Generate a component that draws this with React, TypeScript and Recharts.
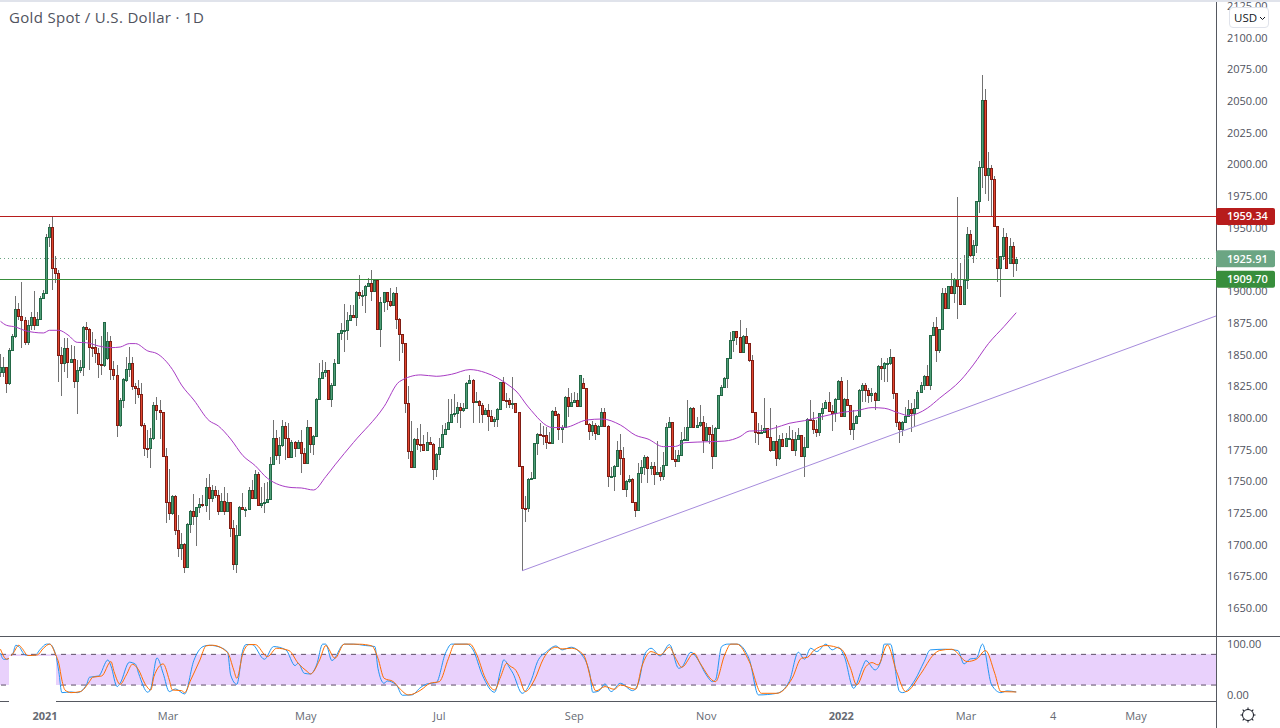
import { Bar, ComposedChart, Line, ReferenceArea, ReferenceLine, XAxis, YAxis } from 'recharts';

const FONT = '"Open Sans", Arial, sans-serif';
const AXIS_COLOR = '#50535e';
const FRAME_COLOR = '#555860';

const opens = [
  1836.9,1836.9,1840.3,1827.6,1853.7,1865,1886,1881,1877.4,1860,
  1873.4,1879.7,1873.4,1878.1,1894.7,1898.7,1943.1,1950.7,1918.4,1914.4,
  1849.7,1844,1855.3,1844.7,1846.6,1829.2,1837.9,1840.3,1872.1,1870.3,
  1856,1856,1851.3,1843.2,1842.4,1847.9,1860.8,1838.7,1834,1794.5,
  1814.5,1830.5,1838.7,1843.4,1825.3,1824.2,1819,1794.5,1776.4,1776.4,
  1784.3,1810.3,1806.3,1804.8,1770.6,1733.8,1725.1,1738.5,1711.7,1697.5,
  1700.6,1683,1716.4,1726.7,1722.7,1729.8,1732.4,1731.4,1745.6,1736.9,
  1743.2,1739.3,1727.2,1734.5,1727.2,1733.8,1713.2,1684.8,1707.7,1729.8,
  1728.2,1728.2,1743.2,1737.4,1755.9,1731.4,1733.2,1733.8,1736.2,1763.8,
  1784.3,1771.4,1778.8,1793.8,1784.3,1769.8,1781.7,1776.9,1781.7,1772.5,
  1764.6,1793,1779.6,1786.4,1815.1,1831.6,1836.4,1837.9,1815.6,1826.1,
  1843.5,1867.1,1869.5,1869.5,1877.4,1881.3,1880.3,1899.8,1897.1,1897.1,
  1904.2,1907.1,1900.8,1909.2,1870.8,1891.6,1899.5,1892.9,1889.2,1899,
  1878.2,1866.4,1859.3,1811.9,1774,1761.4,1783.5,1779.6,1779.6,1775.4,
  1781.7,1779.6,1760.4,1771.7,1777.2,1787.7,1791.9,1796.9,1803.5,1804,
  1809,1806.4,1808,1827.7,1830.1,1812.7,1813.8,1810.3,1803.8,1806.4,
  1802.2,1797.7,1799.3,1807.2,1828.5,1814.3,1814.3,1811.4,1811.9,1804.8,
  1762.2,1729.5,1729,1751.9,1752.7,1780.3,1787.9,1786.6,1786.6,1781.6,
  1780.8,1805.5,1803.2,1791.3,1793.2,1817.1,1810,1812.9,1814.2,1810,
  1827.6,1823.7,1795.8,1789.8,1794.5,1787.9,1793.7,1804.8,1794.2,1754.3,
  1754.8,1762.2,1774.8,1769,1744,1750.6,1751.9,1733.7,1727.4,1756.6,
  1761.4,1769.5,1760.6,1762.4,1756.1,1757.4,1754.3,1762.9,1792.9,1796.9,
  1767.7,1766.1,1770.8,1783.2,1783.2,1792.9,1807.9,1792.9,1794.5,1796.9,
  1783.2,1792.9,1787.4,1770,1792.1,1818.2,1824.5,1831.6,1847.4,1861.6,
  1868.7,1863.9,1852.1,1864.7,1859.2,1845.8,1804.8,1789,1789,1789,
  1792.1,1785,1774.8,1781.9,1768.5,1783.5,1778.5,1783.5,1783.5,1775.4,
  1783.5,1786.7,1770.6,1777.2,1799.3,1798.5,1791.4,1789.6,1804,1808.5,
  1812.7,1806.1,1804.5,1815.1,1829.3,1801.7,1815.1,1810.3,1791.4,1796.7,
  1801.7,1822.2,1826.1,1822.4,1818.2,1819.8,1814.3,1841.1,1839.5,1843.5,
  1843.5,1848.2,1819.8,1797.4,1791.9,1797.4,1801.7,1807.2,1804.5,1808,
  1820.6,1826.1,1833.2,1826.6,1865.6,1871.9,1853.7,1870.3,1898.7,1886.9,
  1904.2,1898.7,1909.7,1904.2,1890,1909,1945.2,1928.7,1936.6,1971.3,
  1998.1,2051,1991.8,1997.3,1988.6,1951.6,1918.4,1927.9,1942.9,1922.4,1935.8,1922.4,
];

const closes = [
  1840.3,1840.3,1827.6,1853.7,1865,1886,1881,1877.4,1860,1873.4,
  1879.7,1873.4,1878.1,1894.7,1898.7,1943.1,1950.7,1918.4,1914.4,1849.7,
  1844,1855.3,1844.7,1846.6,1829.2,1837.9,1840.3,1872.1,1870.3,1856,
  1855.5,1851.3,1843.2,1842.4,1875.8,1860.8,1838.7,1834,1794.5,1814.5,
  1830.8,1838.7,1843.4,1825.3,1824.2,1819,1794.5,1776.4,1776,1784.3,
  1810.3,1806.3,1804.8,1770.6,1733.8,1725.1,1738.5,1711.7,1697.5,1700.6,
  1683,1716.4,1726.7,1722.7,1729.8,1732.4,1731.4,1745.6,1736.9,1743.2,
  1739.3,1727.2,1734.5,1727.2,1733.8,1713.2,1684.8,1707.7,1729.8,1728.2,
  1728.5,1743.2,1737.4,1755.9,1731.4,1733.2,1733.8,1736.1,1763.8,1784.3,
  1771.4,1778.8,1793.8,1784.3,1769.8,1781.7,1776.9,1781.7,1772.5,1764.6,
  1793,1779.6,1786.4,1815.1,1831.6,1836.4,1837.9,1815.6,1826.1,1843.5,
  1867.1,1869.5,1869.8,1877.4,1881.3,1880.3,1899.8,1897.1,1897.4,1904.2,
  1907.1,1900.8,1909.2,1870.8,1891.6,1899.5,1892.9,1889.2,1899,1878.2,
  1866.4,1859.3,1811.9,1774,1761.4,1783.5,1779.6,1779.2,1775.4,1781.7,
  1779.6,1760.4,1771.7,1777.2,1787.7,1791.9,1796.9,1803.5,1804,1809,
  1806.4,1808,1827.7,1830.1,1812.7,1813.8,1810.3,1803.8,1806.4,1802.2,
  1797.7,1799.3,1807.2,1828.5,1814.3,1814,1811.4,1811.9,1804.8,1762.2,
  1729.5,1729,1751.9,1752.7,1780.3,1787.9,1786.6,1786.3,1781.6,1780.8,
  1805.5,1802.9,1791.3,1793.2,1817.1,1810,1812.9,1814.2,1810,1834,
  1823.7,1795.8,1789.8,1794.5,1788.2,1793.7,1804.8,1794.2,1754.3,1754.8,
  1762.2,1774.8,1769,1744,1750.6,1751.9,1733.7,1727.4,1756.6,1761.4,
  1769.5,1760.6,1762.4,1756.1,1757.4,1754.3,1762.9,1792.9,1796.9,1767.7,
  1766.1,1770.8,1783.2,1783.5,1792.9,1807.9,1792.9,1794.5,1796.9,1783.2,
  1792.9,1787.4,1770,1792.1,1818.2,1824.5,1831.6,1847.4,1861.6,1868.7,
  1863.9,1852.1,1864.7,1859.2,1845.8,1804.8,1789,1788.7,1789.3,1792.1,
  1785,1774.8,1781.9,1768.5,1783.5,1778.5,1784.3,1784.3,1775.4,1783.5,
  1786.7,1770.6,1777.2,1799.3,1798.5,1791.4,1789.6,1804,1808.5,1812.7,
  1806.1,1804.5,1815.1,1829.3,1801.7,1815.1,1810.3,1791.4,1796.7,1801.7,
  1822.2,1826.1,1822.4,1818.2,1819.8,1814.3,1841.1,1839.5,1843.7,1843.7,
  1848.2,1819.8,1797.4,1791.9,1797.4,1801.7,1807.2,1804.5,1808,1820.6,
  1826.1,1833.2,1826.6,1865.6,1871.9,1853.7,1870.3,1898.7,1886.9,1904.2,
  1898.7,1909.7,1904.2,1890,1909,1945.2,1928.7,1936.6,1971.3,1998.1,
  2051,1991.8,1997.3,1988.6,1951.6,1918.4,1927.9,1942.9,1918.4,1935.8,1922.4,1925.91,
];

const highs = [
  1850.8,1848.2,1840.8,1855.3,1866.3,1896.3,1890.8,1907.3,1880.3,1877.6,
  1883.9,1900.5,1884.2,1896.6,1901.3,1945.5,1953.4,1959.1,1928.1,1917.1,
  1856.6,1863.2,1863.7,1857.9,1857.4,1846,1846,1872.9,1876,1871,
  1868.4,1862.4,1855.3,1865,1876.3,1868.4,1865,1845,1842.1,1815.8,
  1831.6,1848.7,1856.6,1848.7,1828.2,1830.3,1827.6,1796.1,1790.8,1792.1,
  1813.2,1817.1,1814.5,1805.3,1776.4,1759.8,1739.5,1739.5,1723.8,1709.3,
  1701.4,1717.2,1727.7,1740.3,1730.3,1736.9,1739.5,1752.7,1756.1,1747.4,
  1746.6,1743.5,1740.9,1746.1,1740.9,1734.3,1719.8,1715.9,1730.9,1740.9,
  1730.3,1746.1,1751.4,1759.3,1758,1746.1,1748.7,1750,1769.8,1798.8,
  1790.9,1785.6,1798.8,1797.4,1796.1,1783,1782.2,1783,1790.9,1776.4,
  1798.8,1793.5,1786.9,1815.9,1843.5,1846.1,1844.8,1838.2,1827.7,1846.9,
  1867.7,1875,1890.3,1884.2,1889.5,1889.5,1900.8,1913.2,1901.3,1905.3,
  1910.5,1917.1,1909.7,1909.7,1896.1,1900,1900,1902.6,1900,1903.4,
  1879,1866.6,1859.8,1825.6,1797.7,1784.3,1792.2,1795.6,1786.9,1789.6,
  1785.6,1780.4,1772.5,1784.3,1794.8,1796.1,1815.1,1815.1,1819,1813.2,
  1811.9,1811.9,1829,1834.3,1830.8,1821.1,1814.5,1811.9,1808,1811.4,
  1806.7,1801.4,1808,1829,1832.4,1819.8,1815.9,1833,1812.4,1805.3,
  1762.7,1738.7,1752.7,1758,1780.8,1788.7,1796.6,1794,1792.9,1789,
  1806.6,1809.2,1804,1794.8,1817.6,1823.7,1819.8,1821.1,1819.8,1834.5,
  1831.6,1824,1796.1,1797.9,1796.1,1794.8,1807.9,1808.4,1794.8,1761.9,
  1763.2,1782.1,1787.7,1777.7,1751.4,1755.3,1752.7,1734.3,1764.5,1767.2,
  1771.1,1770.6,1765.8,1765.8,1782.1,1761.9,1773.7,1796.1,1800.8,1797.4,
  1775,1775,1789.5,1793.4,1814.5,1809.2,1808.7,1801.3,1810.5,1801.9,
  1796.6,1793.5,1794.8,1793.5,1818.7,1826.3,1832.9,1847.9,1868.4,1869.2,
  1869.2,1877.6,1865.8,1871,1859.7,1850,1805.3,1796.1,1794.8,1815.8,
  1792.7,1807.9,1782.4,1794.8,1786.9,1788.2,1788.2,1794,1790.9,1789.6,
  1792.2,1787.2,1785.6,1800,1814.5,1805.3,1798.8,1804.5,1811.9,1814.5,
  1821.1,1810.6,1815.9,1830.3,1833,1815.9,1830.3,1810.9,1806.7,1802.7,
  1823,1827.7,1827.7,1823.7,1823.7,1821.1,1842.2,1847.4,1844.8,1847.4,
  1854.5,1848.7,1820.3,1798,1798,1809.3,1814.5,1811.9,1815.1,1822.4,
  1829,1834.3,1842.2,1866.1,1876.3,1880.3,1870.8,1902.6,1902.6,1904.7,
  1914.5,1910.5,1974.4,1922.4,1928.9,1950.8,1948.7,1940.8,1971.8,2003.1,
  2071,2059.9,2010,2000,1991.3,1952.1,1928.4,1950,1946,1942.1,1939.5,1927.6,
];

const lows = [
  1832.9,1832.9,1820.3,1826.3,1853.2,1863.2,1877.6,1855.8,1857.9,1857.9,
  1869.7,1869.7,1872.9,1877.6,1894.2,1898.1,1935.5,1901.3,1906.5,1829,
  1817.9,1836.9,1831.6,1844.2,1824.2,1803.7,1835.5,1833.7,1861.8,1838.2,
  1848.7,1843.4,1832.1,1834.2,1840.8,1846,1830.3,1830.3,1785.3,1793.5,
  1808.5,1829,1832.9,1822.4,1811.3,1815.8,1793.5,1770.3,1768.5,1761.1,
  1783,1798.7,1784,1769.8,1717.7,1719.8,1723.8,1708,1690.9,1688.3,
  1677.7,1681.7,1709.3,1715.9,1699.6,1725.1,1730.3,1726.4,1719.8,1734.3,
  1736.9,1723.8,1726.4,1723.8,1726.4,1706.7,1680.4,1678.3,1707.2,1727.7,
  1721.9,1727.7,1736.9,1736.9,1730.9,1729,1725.1,1733,1735.6,1763.3,
  1767.2,1764,1777.7,1767.2,1768.5,1769.3,1769.8,1776.4,1757.2,1764,
  1764,1772.5,1771.1,1785.6,1814.5,1831.1,1833,1815.1,1809.3,1825.6,
  1842.9,1861.9,1852.7,1861.9,1876.9,1879.8,1872.9,1894,1888.7,1883.4,
  1904,1892.9,1900,1870.3,1856.6,1884.2,1885.6,1888.2,1888.7,1870.3,
  1845.6,1851.9,1804.5,1768,1760.6,1760.6,1775.1,1773.8,1775.1,1774.6,
  1779,1751.4,1754.1,1767.2,1776.4,1786.9,1790.9,1796.1,1801.4,1796.7,
  1792.2,1805.3,1807.4,1827.2,1796.7,1811.9,1796.1,1796.1,1802.7,1790.3,
  1797.2,1793.5,1793.5,1806.7,1813.8,1808,1808,1807.4,1804,1761.4,
  1679.8,1718.5,1726.4,1751.4,1752.2,1771.1,1786.1,1779,1775.6,1780.3,
  1780.3,1802.4,1783,1780.8,1792.9,1801.3,1809.2,1812.4,1809.5,1809.5,
  1823.2,1795.3,1783,1786.1,1783,1787.7,1793.5,1793.5,1746.1,1752.7,
  1742.9,1761.9,1755.3,1743.5,1737.7,1749.3,1733,1722.4,1726.9,1749.3,
  1755.3,1748.7,1755.3,1747.4,1755.3,1750.8,1751.4,1762.4,1792.4,1767.2,
  1761.4,1765.6,1770.3,1782.4,1782.9,1792.4,1792.4,1792.4,1793.5,1772.9,
  1782.4,1779.8,1759.8,1769.5,1791.6,1817.6,1823.7,1823.7,1846.6,1852.6,
  1857.9,1851.3,1851.3,1858.7,1844.7,1804,1780.3,1779,1788.2,1788.2,
  1784.2,1773.7,1774.3,1762.7,1767.2,1777.7,1777.7,1783,1774.6,1770.4,
  1783,1769.8,1754,1776.4,1798,1787.7,1785.6,1786.1,1798.8,1808,
  1805.3,1790.1,1797.4,1814.5,1800.9,1800.9,1809.8,1786.9,1783,1796.1,
  1800.9,1813.2,1813.2,1811.9,1813.2,1806.7,1813.8,1830.3,1829,1829,
  1842.2,1815.1,1793.5,1780.9,1786.1,1796.9,1800.9,1789.6,1793.5,1807.4,
  1819.8,1822.4,1826.1,1822.4,1865,1844.8,1851.4,1869.8,1886.1,1886.3,
  1897.9,1890.8,1878.4,1889.5,1889.5,1902.1,1927.6,1922.4,1930.3,1962.3,
  1981.5,1977.1,1971.8,1959.2,1950.8,1907.9,1896.1,1925,1917.9,1921.8,1911.8,1916.6,
];

// moving average, read at the bends only: [bar index, price]
const maPoints = [
  [0,1876.6],[2,1873.4],[5,1872.1],[8,1869.2],[14,1867.4],[16,1869.5],[19,1869.5],[22,1865.8],[25,1860],[28,1859.7],
  [32,1857.1],[36,1855.8],[39,1856.3],[42,1859],[44,1859],[48,1853.2],[51,1851.1],[56,1838.7],[59,1826.3],[63,1814.5],
  [68,1798.2],[71,1794],[75,1783.7],[79,1770.6],[83,1762.7],[87,1752.7],[95,1745.4],[98,1745.1],[102,1743.5],[106,1754],
  [109,1763.3],[115,1780.9],[125,1809.3],[130,1829],[137,1834.3],[142,1833.2],[147,1834.8],[153,1838.5],[158,1836.1],[166,1825.5],
  [168,1821.6],[172,1809],[180,1792.7],[184,1792.9],[191,1798.7],[196,1799.5],[202,1794.8],[207,1786.6],[211,1783.7],[216,1777.7],
  [220,1777.9],[223,1780.8],[231,1781.6],[236,1782.1],[241,1785.6],[244,1790],[248,1790.3],[252,1792.2],[257,1796.1],[262,1798.2],
  [270,1802.7],[276,1805.3],[279,1806.1],[284,1808.5],[288,1808],[293,1804],[296,1802.2],[299,1804],[302,1808],[306,1815.9],
  [313,1830.3],[317,1842.2],[322,1859.2],[327,1872.4],[331,1883.4],
];

// stochastic %K, read at the bends: [bar index, value]
const stochK = [
  [0,82.2],[1,70.4],[2,70.4],[4,80.9],[5,97.8],[6,95.2],[8,78.9],[11,76.9],[13,90],[15,100],
  [16,100],[18,78.9],[19,46.3],[20,5.2],[23,6.5],[25,5.2],[28,20.2],[29,35.2],[32,37.8],[35,69.1],
  [36,57.4],[38,17],[39,23.5],[42,64.6],[44,60.6],[45,43],[48,5.9],[49,13.7],[51,73],[53,43],
  [55,7.2],[57,12.4],[60,2.6],[63,67.8],[66,95.2],[68,97.8],[70,96.5],[74,84.8],[75,39.8],[77,21.5],
  [79,88.7],[80,99.1],[82,99.1],[86,70.4],[89,95.2],[93,88.7],[96,58],[97,62.6],[99,43],[101,41.7],
  [103,59.3],[105,100],[106,100],[108,67.8],[112,100],[115,100],[119,97.2],[122,95.2],[123,52.8],[125,23.5],
  [126,28],[129,20.2],[131,0],[134,0.7],[137,15.7],[139,22.2],[142,24.8],[145,82.2],[147,100],[152,100],
  [154,88.7],[157,39.8],[161,5.9],[163,49.6],[164,69.1],[166,52.8],[167,43],[170,3.9],[173,30],[175,65.9],
  [178,85.4],[181,96.5],[183,88.7],[186,93.9],[189,82.2],[192,43],[193,5.9],[195,8.5],[197,22.2],[199,7.2],
  [202,23.5],[206,9.1],[208,26.7],[210,80.9],[212,91.9],[215,76.9],[218,99.1],[221,52.8],[222,54.8],[225,84.1],
  [227,72.4],[230,39.8],[232,26.7],[233,30],[235,95.2],[237,100],[240,100],[244,70.4],[247,0.7],[253,3.9],
  [257,26.7],[260,84.1],[262,70.4],[264,91.9],[266,85.4],[269,100],[271,88.7],[273,93.9],[275,75.6],[278,13.7],
  [281,56.1],[282,67.8],[285,49.6],[287,69.1],[288,100],[290,100],[293,7.2],[294,5.2],[298,30],[301,65.9],
  [303,88.7],[308,90],[312,87.4],[314,61.3],[316,71.1],[318,72.4],[320,100],[323,20.2],[326,5.2],[328,8.5],[331,6.5],
];

// stochastic %D, read at the bends: [bar index, value]
const stochD = [
  [0,90],[2,70.4],[4,80.9],[6,97.8],[7,91.9],[9,77.6],[12,78.9],[14,91.9],[16,100],[18,78.9],
  [19,62.6],[20,30],[21,10.4],[23,5.2],[26,7.2],[29,26.7],[30,35.2],[33,37.8],[36,65.9],[37,46.3],
  [39,21.5],[41,39.8],[43,60.6],[45,49.6],[47,23.5],[49,10.4],[50,36.5],[53,61.3],[55,30],[56,10.4],
  [59,9.1],[60,5.2],[62,30],[65,69.1],[67,96.5],[69,97.8],[74,83.5],[76,49.6],[77,33.3],[79,82.2],
  [81,99.1],[83,99.1],[87,75.6],[90,91.9],[94,87.4],[97,62.6],[100,46.3],[101,41.7],[104,69.1],[106,97.2],
  [109,72.4],[112,100],[117,99.8],[121,96.5],[123,72.4],[125,33.3],[128,26.7],[130,13.7],[133,0.7],[137,10.4],
  [140,23.5],[143,26.7],[146,72.4],[148,99.8],[153,100],[155,82.2],[158,33.3],[161,10.4],[163,36.5],[165,62.6],
  [166,57.4],[168,48.3],[169,36.5],[171,7.2],[174,30],[177,72.4],[181,93.9],[183,90.6],[186,91.9],[190,78.9],
  [193,20.2],[194,8.5],[197,17],[200,11.7],[202,20.2],[207,11.7],[209,56.1],[212,85.4],[215,78.9],[218,93.9],
  [220,72.4],[222,54.8],[226,82.2],[228,62.6],[233,26.7],[236,78.9],[238,100],[240,100],[244,65.9],[248,3.9],
  [253,3.9],[258,33.3],[261,72.4],[263,74.3],[265,87.4],[269,97.2],[274,90],[277,52.8],[279,20.2],[282,56.1],
  [284,63.9],[286,59.3],[289,98.5],[292,46.3],[295,7.2],[300,43],[304,78.9],[306,87.4],[310,90],[315,65.9],
  [318,70.4],[321,87.4],[324,43],[326,7.2],[331,6.5],
];

const priceTicks = [
  1650,1675,1700,1725,1750,1775,1800,1825,1850,1875,
  1900,1925,1950,1975,2000,2025,2050,2075,2100,2125,
];
const dateTickIndexes = [14.5, 54.6, 99.5, 143, 187, 230, 274, 314.6, 343, 370];
const dateTickLabels = ['2021', 'Mar', 'May', 'Jul', 'Sep', 'Nov', '2022', 'Mar', '4', 'May'];
const boldDateLabels = ['2021', '2022'];
const trendStart = { x: 170, y: 1679.8 };
const trendEnd = { x: 396.1, y: 1880.8 };

const X_DOMAIN = [-0.16, 396.1];
const Y_DOMAIN = [1628.3, 2130.1];
const lookup = (points: number[][]) => new Map(points.map(([i, v]) => [i, v]));
const maByIndex = lookup(maPoints);
const kByIndex = lookup(stochK);
const dByIndex = lookup(stochD);

const priceRows = opens.map((open, i) => ({
  i,
  open,
  close: closes[i],
  high: highs[i],
  low: lows[i],
  range: [lows[i], highs[i]],
  ma: maByIndex.get(i) ?? null,
}));

const stochRows = opens.map((_, i) => ({
  i,
  k: kByIndex.get(i) ?? null,
  d: dByIndex.get(i) ?? null,
}));

// wick plus outlined body, worked out from the pixel span recharts gives for [low, high]
function Candle(props: any) {
  const { x, y, width, height, payload } = props;
  if (!payload || height == null) return null;
  const { open, close, high, low } = payload;
  const perUnit = height / (high - low);
  const up = close >= open;
  const px = Math.floor(x + width / 2);
  const top = Math.round(y + (high - Math.max(open, close)) * perUnit);
  const bottom = Math.max(top + 1, Math.round(y + (high - Math.min(open, close)) * perUnit));
  return (
    <g shapeRendering="crispEdges">
      <line x1={px + 0.5} x2={px + 0.5} y1={y} y2={y + height} stroke="#727272" strokeWidth={1} />
      <rect
        x={px - 0.5}
        y={top + 0.5}
        width={2}
        height={bottom - top}
        fill={up ? '#4f9f78' : '#e2452f'}
        stroke={up ? '#236846' : '#7f1d14'}
        strokeWidth={1}
      />
    </g>
  );
}

function PriceTick(props: any) {
  const { y, payload } = props;
  return (
    <text x={1227} y={y + 3.5} fontFamily={FONT} fontSize={11} fill={AXIS_COLOR}>
      {payload.value.toFixed(2)}
    </text>
  );
}

function DateTick(props: any) {
  const { x, y, payload, index } = props;
  const label = dateTickLabels[index];
  return (
    <text
      x={x}
      y={y + 11}
      textAnchor="middle"
      fontFamily={FONT}
      fontSize={11}
      fontWeight={boldDateLabels.includes(label) ? 700 : 400}
      fill="#666a73"
    >
      {label}
    </text>
  );
}

function PriceTag(props: any) {
  const { viewBox, text, fill } = props;
  const cy = viewBox.y;
  return (
    <g>
      <rect x={1216} y={cy - 8.5} width={59} height={17} rx={2} fill={fill} />
      <text x={1227} y={cy + 4} fontFamily={FONT} fontSize={11} fontWeight={600} fill="#ffffff">
        {text}
      </text>
    </g>
  );
}

function SunIcon() {
  const rays = [0, 45, 90, 135, 180, 225, 270, 315];
  return (
    <svg width={20} height={20} viewBox="-10 -10 20 20" style={{ position: 'absolute', left: 1238, top: 705 }}>
      <circle cx={0} cy={0} r={5.5} fill="none" stroke="#131722" strokeWidth={1} />
      {rays.map((deg) => (
        <line key={deg} x1={0} y1={-5.5} x2={0} y2={-7.5} stroke="#131722" strokeWidth={1} transform={`rotate(${deg})`} />
      ))}
    </svg>
  );
}

export default function App() {
  return (
    <div style={{ position: 'absolute', left: 0, top: 0, width: 1280, height: 728, background: '#ffffff', overflow: 'hidden' }}>
      <div style={{ position: 'absolute', left: 0, top: 0 }}>
        <ComposedChart width={1280} height={636} data={priceRows} margin={{ top: 0, right: 0, bottom: 0, left: 0 }}>
          <XAxis dataKey="i" type="number" domain={X_DOMAIN} allowDataOverflow hide />
          <YAxis
            orientation="right"
            width={64}
            type="number"
            domain={Y_DOMAIN}
            allowDataOverflow
            ticks={priceTicks}
            interval={0}
            tick={<PriceTick />}
            tickLine={false}
            axisLine={{ stroke: FRAME_COLOR, shapeRendering: 'crispEdges' }}
          />
          <ReferenceLine segment={[trendStart, trendEnd]} stroke="#a68bdc" strokeWidth={1} />
          <Bar dataKey="range" barSize={3} shape={<Candle />} isAnimationActive={false} />
          <Line
            dataKey="ma"
            type="monotone"
            stroke="#a83cc4"
            strokeWidth={1}
            dot={false}
            connectNulls
            isAnimationActive={false}
          />
        </ComposedChart>
      </div>

      {/* same scales again on a clear layer, so the level tags sit over the axis labels */}
      <div style={{ position: 'absolute', left: 0, top: 0 }}>
        <ComposedChart width={1280} height={636} data={priceRows} margin={{ top: 0, right: 64, bottom: 0, left: 0 }}>
          <XAxis dataKey="i" type="number" domain={X_DOMAIN} allowDataOverflow hide />
          <YAxis type="number" domain={Y_DOMAIN} allowDataOverflow hide />
          <ReferenceLine
            y={1959.34}
            stroke="#b71c1c"
            strokeWidth={1}
            shapeRendering="crispEdges"
            label={<PriceTag text="1959.34" fill="#b71c1c" />}
          />
          <ReferenceLine
            y={1925.91}
            stroke="#6ba583"
            strokeWidth={1}
            strokeDasharray="1 3"
            shapeRendering="crispEdges"
            label={<PriceTag text="1925.91" fill="#6ba583" />}
          />
          <ReferenceLine
            y={1909.7}
            stroke="#388e3c"
            strokeWidth={1}
            shapeRendering="crispEdges"
            label={<PriceTag text="1909.70" fill="#388e3c" />}
          />
        </ComposedChart>
      </div>

      <div style={{ position: 'absolute', left: 0, top: 636 }}>
        <ComposedChart width={1280} height={92} data={stochRows} margin={{ top: 0, right: 0, bottom: 0, left: 0 }}>
          <XAxis
            dataKey="i"
            type="number"
            domain={X_DOMAIN}
            allowDataOverflow
            height={27}
            ticks={dateTickIndexes}
            interval={0}
            tick={<DateTick />}
            tickLine={false}
            axisLine={{ stroke: FRAME_COLOR, shapeRendering: 'crispEdges' }}
          />
          <YAxis
            orientation="right"
            width={64}
            type="number"
            domain={[-11.15, 115.85]}
            allowDataOverflow
            ticks={[0, 100]}
            interval={0}
            tick={<PriceTick />}
            tickLine={false}
            axisLine={{ stroke: FRAME_COLOR, shapeRendering: 'crispEdges' }}
          />
          <ReferenceArea y1={20} y2={80} fill="#e9d1fc" fillOpacity={1} stroke="none" />
          <ReferenceLine y={80} stroke="#5d5068" strokeDasharray="5 5" />
          <ReferenceLine y={20} stroke="#5d5068" strokeDasharray="5 5" />
          <Line dataKey="k" type="monotone" stroke="#2196f3" strokeWidth={1} dot={false} connectNulls isAnimationActive={false} />
          <Line dataKey="d" type="monotone" stroke="#ff6d00" strokeWidth={1} dot={false} connectNulls isAnimationActive={false} />
        </ComposedChart>
      </div>

      {/* frame lines and the patch over the indicator legend */}
      <div style={{ position: 'absolute', left: 0, top: 0, width: 1280, height: 2, background: '#e0e3eb' }} />
      <div style={{ position: 'absolute', left: 0, top: 636, width: 1280, height: 1, background: FRAME_COLOR }} />
      <div style={{ position: 'absolute', left: 1216, top: 701, width: 1, height: 27, background: FRAME_COLOR }} />
      <div style={{ position: 'absolute', left: 9, top: 656, width: 47, height: 47, background: '#ffffff' }} />

      <div style={{ position: 'absolute', left: 9, top: 7, fontFamily: FONT, fontSize: 15, letterSpacing: 0.33, color: '#50535e', whiteSpace: 'nowrap' }}>
        Gold Spot / U.S. Dollar · 1D
      </div>

      <div
        style={{
          position: 'absolute',
          left: 1229,
          top: 7,
          width: 34,
          height: 19,
          border: '1px solid #e0e3eb',
          borderRadius: 4,
          background: '#ffffff',
          fontFamily: FONT,
          fontSize: 11.5,
          lineHeight: '19px',
          color: '#131722',
          paddingLeft: 4,
          boxSizing: 'content-box',
          whiteSpace: 'nowrap',
        }}
      >
        USD
        <svg width={7} height={5} viewBox="0 0 7 5" style={{ marginLeft: 2, marginBottom: 1 }}>
          <path d="M1 1 L3.5 3.5 L6 1" fill="none" stroke="#131722" strokeWidth={1} />
        </svg>
      </div>

      <SunIcon />
    </div>
  );
}
